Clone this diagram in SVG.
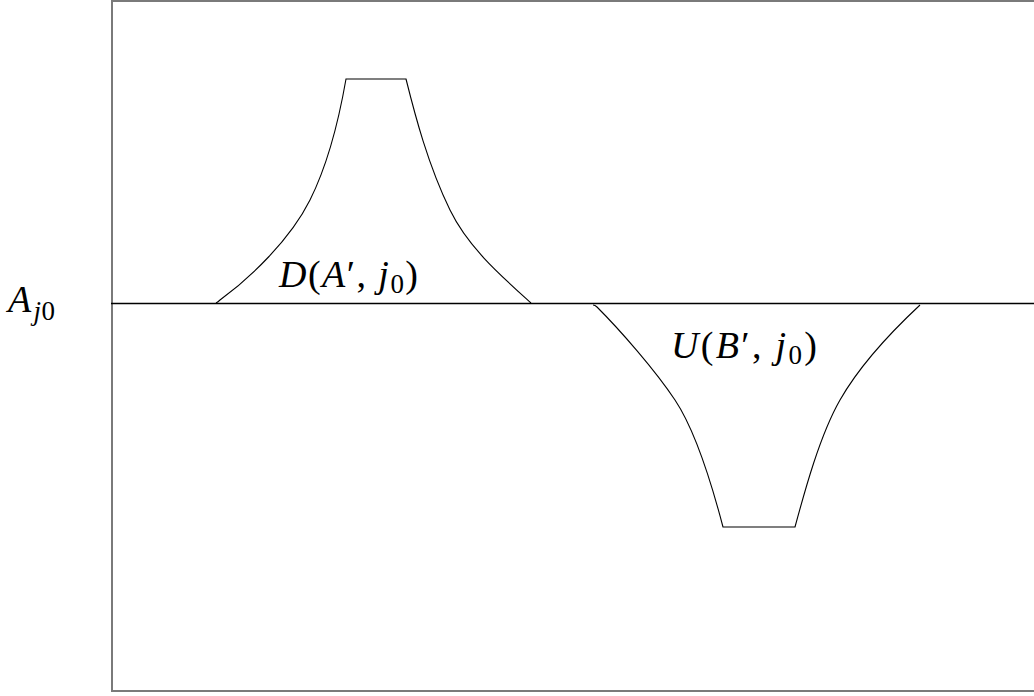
<svg xmlns="http://www.w3.org/2000/svg" width="1034" height="696" viewBox="0 0 1034 696">
<style>
.frame{fill:none;stroke:#7a7a7a;stroke-width:2}
.axis{fill:none;stroke:#000;stroke-width:1.5}
.curve{fill:none;stroke:#000;stroke-width:1.1}
.math{font-family:"Liberation Serif","DejaVu Serif",serif;font-size:38px;fill:#000}
.it{font-style:italic}
.sub{font-size:27px}
</style>
<rect width="1034" height="696" fill="#fff"/>
<g id="frame">
<rect class="frame" x="112" y="1" width="940" height="690"/>
<line class="axis" x1="111" y1="303.5" x2="1034" y2="303.5"/>
</g>
<g id="label-A">
<text class="math" x="8" y="312" textLength="47" lengthAdjust="spacing"><tspan class="it">A</tspan><tspan class="it sub" dy="8" dx="2">j</tspan><tspan class="sub">0</tspan></text>
</g>
<g id="bump-D">
<path class="curve" d="M216,303 Q218,302 220,300 C 250,278 290,240 310,200 C 325,170 338,125 346,79 L406,79 C 415,115 428,165 450,210 C 468,247 500,275 531,303"/>
<text class="math" x="279" y="287" textLength="139" lengthAdjust="spacing"><tspan class="it">D</tspan>(<tspan class="it">A</tspan>′, <tspan class="it">j</tspan><tspan class="sub" dy="6">0</tspan><tspan dy="-6">)</tspan></text>
</g>
<g id="dip-U">
<path class="curve" d="M593,305 Q595,305 597,307 C 620,330 655,370 675,400 C 695,430 712,485 723,527 L795,527 C 805,490 820,435 840,400 C 860,365 890,333 920,305"/>
<text class="math" x="671" y="358" textLength="146" lengthAdjust="spacing"><tspan class="it">U</tspan>(<tspan class="it">B</tspan>′, <tspan class="it">j</tspan><tspan class="sub" dy="6">0</tspan><tspan dy="-6">)</tspan></text>
</g>
</svg>
